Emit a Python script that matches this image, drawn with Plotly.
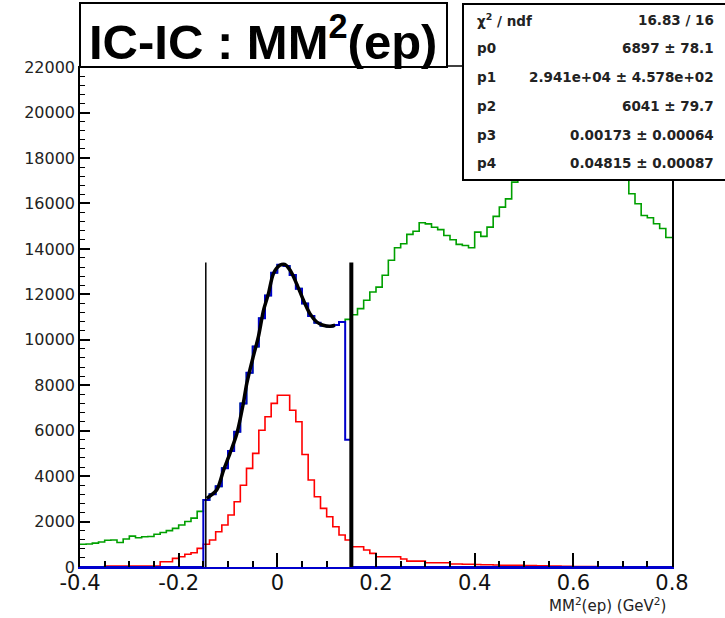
import plotly.graph_objects as go

# ---------------- data ----------------
x_min, x_max, bin_width = -0.4, 0.8, 0.0125

# full MM^2(ep) histogram (green), 96 bins of 0.0125 from -0.4 to 0.8
green_counts = [
    1000, 1010, 1050, 1100, 1180, 1190, 1080, 1230, 1360, 1290,
    1330, 1340, 1440, 1520, 1600, 1700, 1850, 2000, 2150, 2450,
    2950, 3200, 3550, 4350, 5100, 5950, 7200, 8550, 9700, 10950,
    11950, 12950, 13300, 13250, 12850, 12250, 11600, 11050, 10750, 10620,
    10590, 10650, 10780, 10900,
    11100, 11370, 11740, 12100, 12320, 12840, 13500, 14050, 14230, 14640,
    14780, 15150, 15100, 14950, 14850, 14590, 14400, 14200, 14150, 14050,
    14740, 14550, 14960, 15430, 15840, 16200, 16940,
    17500, 17900, 18300, 18600, 18900, 19100, 19300, 19400, 19500, 19400,
    19300, 19100, 18800, 18500, 18100, 17800, 17500, 17200,
    16430, 15990, 15470, 15370, 15110, 14900, 14500,
]

# signal-like histogram (red)
red_counts = [
    0, 0, 0, 0,
    40, 40, 40, 40, 40, 40, 40, 40, 40,
    230, 230, 380, 450, 560, 630, 820,
    1000, 1190, 1550, 1850, 2290, 2870, 3600, 4340, 5000, 6020,
    6610, 7200, 7560, 7560, 6900, 6390, 4950, 3830, 3090, 2580,
    2210, 1770, 1410, 1190,
    890, 890, 750, 600, 450, 450, 450, 450, 350, 260, 260, 260,
    190, 190, 190, 190,
    130, 130, 120, 120, 110, 100, 100, 90, 80, 80, 70, 70,
    60, 60, 50, 50, 40, 40, 30, 30, 20, 20, 20, 20,
    0, 0, 0, 0, 0, 0, 0, 0, 0, 0, 0, 0,
]

# histogram inside the cut window (blue), bins 20..43
blue_first_bin = 20
blue_cut_counts = [
    2950, 3200, 3550, 4350, 5100, 5950, 7200, 8550, 9700, 10950,
    11950, 12950, 13300, 13250, 12850, 12250, 11600, 11050, 10750, 10620,
    10590, 10650, 10780, 5600,
]

# fitted curve (black)
fit_x = [-0.143, -0.123, -0.109, -0.096, -0.082, -0.069, -0.062, -0.049,
         -0.0385, -0.028, -0.018, -0.008, 0.005, 0.015, 0.026, 0.039,
         0.053, 0.066, 0.080, 0.093, 0.107, 0.117]
fit_y = [3020, 3385, 4264, 4998, 5877, 7196, 8075, 9245,
         10124, 11298, 12032, 12911, 13276, 13320, 13056, 12472,
         11737, 11153, 10783, 10638, 10594, 10638]

# cut lines
cut_positions = [-0.145, 0.15]
cut_widths = [1.5, 4]
cut_height = 13400

# axes
x_tick_vals = [-0.4, -0.2, 0, 0.2, 0.4, 0.6, 0.8]
x_tick_text = ["-0.4", "-0.2", "0", "0.2", "0.4", "0.6", "0.8"]
y_tick_vals = [0, 2000, 4000, 6000, 8000, 10000, 12000, 14000, 16000, 18000, 20000, 22000]
y_tick_text = ["0", "2000", "4000", "6000", "8000", "10000", "12000", "14000",
               "16000", "18000", "20000", "22000"]
y_max = 22050

title_text = "IC-IC : MM<sup>2</sup>(ep)"
x_title_text = "MM<sup>2</sup>(ep) (GeV<sup>2</sup>)"
stat_names = ["χ<sup>2</sup> / ndf", "p0", "p1", "p2", "p3", "p4"]
stat_values = ["16.83 / 16", "6897 ± 78.1", "2.941e+04 ± 4.578e+02",
               "6041 ± 79.7", "0.00173 ± 0.00064", "0.04815 ± 0.00087"]

# ---------------- figure ----------------
W, H = 725, 618
L, R, T, B = 80, 53, 66, 51
plot_w, plot_h = W - L - R, H - T - B


def px_x(px):
    return (px - L) / plot_w


def px_y(py):
    return (H - B - py) / plot_h


n_bins = len(green_counts)
edges = [x_min + i * bin_width for i in range(n_bins + 1)]


def steps(vals):
    return edges, list(vals) + [vals[-1]]


blue_counts = ([0] * blue_first_bin + blue_cut_counts
               + [0] * (n_bins - blue_first_bin - len(blue_cut_counts)))

fig = go.Figure()
for vals, col, w in [(green_counts, "#00a000", 1.6),
                     (red_counts, "#ff0000", 1.6),
                     (blue_counts, "#0000cc", 2.0)]:
    sx, sy = steps(vals)
    fig.add_trace(go.Scatter(x=sx, y=sy, mode="lines", line=dict(color=col, width=w, shape="hv"),
                             hoverinfo="skip", showlegend=False))

fig.add_trace(go.Scatter(x=fit_x, y=fit_y, mode="lines",
                         line=dict(color="black", width=3.5, shape="spline", smoothing=0.8),
                         hoverinfo="skip", showlegend=False))

for xc, wc in zip(cut_positions, cut_widths):
    fig.add_trace(go.Scatter(x=[xc, xc], y=[0, cut_height], mode="lines",
                             line=dict(color="black", width=wc), hoverinfo="skip", showlegend=False))

font = "Liberation Sans, Arial, Helvetica, sans-serif"
wide = "DejaVu Sans, Verdana, sans-serif"

shapes = [
    # top frame line
    dict(type="line", xref="paper", yref="paper", x0=0, x1=1, y0=1, y1=1,
         line=dict(color="black", width=1.5), layer="above"),
    # title box
    dict(type="rect", xref="paper", yref="paper", x0=px_x(80), x1=px_x(447),
         y0=px_y(67), y1=px_y(3), fillcolor="white", line=dict(color="black", width=2), layer="above"),
    # stats box
    dict(type="rect", xref="paper", yref="paper", x0=px_x(463), x1=px_x(730),
         y0=px_y(180), y1=px_y(4), fillcolor="white", line=dict(color="black", width=2), layer="above"),
]

annotations = [
    dict(text="<b>" + title_text + "</b>", xref="paper", yref="paper", x=px_x(263), y=px_y(38),
         xanchor="center", yanchor="middle", showarrow=False,
         font=dict(family=font, size=49, color="black")),
    dict(text=x_title_text, xref="paper", yref="paper", x=px_x(668), y=px_y(605),
         xanchor="right", yanchor="middle", showarrow=False,
         font=dict(family=wide, size=15, color="#222")),
]
row_y = [20, 48, 77, 106, 135, 163]
for name, val, ry in zip(stat_names, stat_values, row_y):
    annotations.append(dict(text="<b>" + name + "</b>", xref="paper", yref="paper", x=px_x(475), y=px_y(ry),
                            xanchor="left", yanchor="middle", showarrow=False,
                            font=dict(family=wide, size=13.5, color="#222")))
    annotations.append(dict(text="<b>" + val + "</b>", xref="paper", yref="paper", x=px_x(716), y=px_y(ry),
                            xanchor="right", yanchor="middle", showarrow=False,
                            font=dict(family=wide, size=13.5, color="#222")))

fig.update_layout(
    width=W, height=H, margin=dict(l=L, r=R, t=T, b=B, pad=0),
    paper_bgcolor="white", plot_bgcolor="white",
    shapes=shapes, annotations=annotations, showlegend=False,
    xaxis=dict(range=[x_min, x_max], showgrid=False, zeroline=False,
               showline=True, linecolor="#0000cc", linewidth=2, mirror=False,
               tickmode="array", tickvals=x_tick_vals, ticktext=x_tick_text,
               ticks="inside", ticklen=14, tickwidth=1.5, tickcolor="black",
               ticklabelstandoff=-4,
               minor=dict(tickmode="linear", tick0=0, dtick=0.05, ticks="inside",
                          ticklen=6, tickwidth=1.5, tickcolor="black"),
               tickfont=dict(family=wide, size=21, color="#111")),
    yaxis=dict(range=[0, y_max], showgrid=False, zeroline=False,
               showline=True, linecolor="black", linewidth=1.5, mirror=True,
               tickmode="array", tickvals=y_tick_vals, ticktext=y_tick_text,
               ticks="inside", ticklen=10, tickwidth=1.5, tickcolor="black",
               minor=dict(tickmode="linear", tick0=0, dtick=400, ticks="inside",
                          ticklen=5, tickwidth=1.2, tickcolor="black"),
               tickfont=dict(family=wide, size=16, color="#222")),
)

fig.write_html("out.html", config={"displayModeBar": False})
